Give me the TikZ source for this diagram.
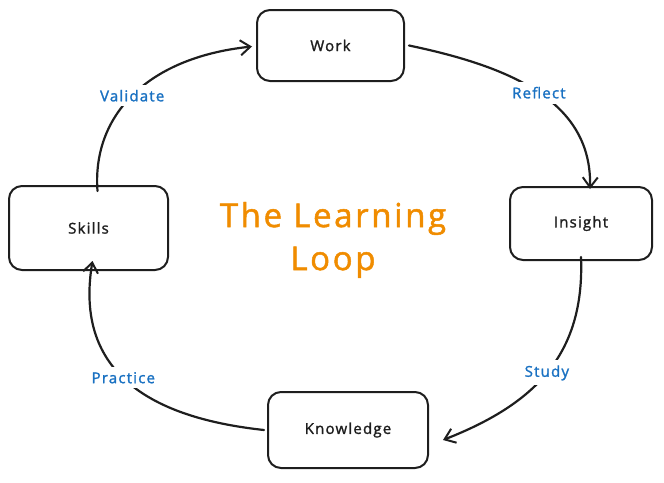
\documentclass[tikz,border=0pt]{standalone}
\usepackage{fontspec}
\setmainfont{Open Sans}[LetterSpace=8, FakeBold=1.5]
\usetikzlibrary{arrows.meta}
\definecolor{exorange}{HTML}{F08C00}
\definecolor{exblue}{HTML}{1971C2}
\definecolor{exink}{HTML}{1E1E1E}
\begin{document}
\begin{tikzpicture}[x=1pt,y=-1pt,
  stepbox/.style={draw=exink, line width=2pt, rounded corners=13pt, fill=white,
     font=\fontsize{15}{17}\selectfont, text=exink},
  lbl/.style={fill=white, text=exblue, font=\fontsize{15}{17}\selectfont, inner sep=5pt},
  conn/.style={draw=exink, line width=2.2pt, line cap=round,
     -{Straight Barb[length=10pt,width=15pt,line width=2pt]}},
  ttl/.style={text=exorange, font=\fontsize{33}{43}\selectfont, align=center}]
\useasboundingbox (0,0) rectangle (664,482);
\node[stepbox, minimum width=147pt, minimum height=71pt] (work) at (330.5,45.5) {Work};
\node[stepbox, minimum width=142pt, minimum height=73pt] (insight) at (581,223.5) {Insight};
\node[stepbox, minimum width=160pt, minimum height=76pt] (knowledge) at (348,430) {Knowledge};
\node[stepbox, minimum width=159pt, minimum height=84pt] (skills) at (88.5,228) {Skills};
\node[ttl] (title) at (333,240) {The Learning\\Loop};
\coordinate (wi) at ([xshift=9pt,yshift=-3pt]insight.north);
\coordinate (ks) at ([xshift=14pt,yshift=-10pt]knowledge.east);
\coordinate (sk) at ([xshift=4pt,yshift=10pt]skills.south);
\coordinate (wk) at ([xshift=-4pt,yshift=-1pt]work.west);
\draw[conn] ([xshift=4pt]work.east) .. controls (512,67) and (592,102) .. (wi)
  node[lbl, pos=0.5] (reflect) {Reflect};
\draw[conn] ([yshift=4pt]insight.south) .. controls (585,357) and (532,405) .. (ks)
  node[lbl, pos=0.5] (study) {Study};
\draw[conn] ([xshift=-3pt]knowledge.west) .. controls (134,416) and (76,361) .. (sk)
  node[lbl, pos=0.5] (practice) {Practice};
\draw[conn] ([xshift=9pt,yshift=-6pt]skills.north) .. controls (92,118) and (144,58) .. (wk)
  node[lbl, pos=0.5] (validate) {Validate};
\end{tikzpicture}
\end{document}
